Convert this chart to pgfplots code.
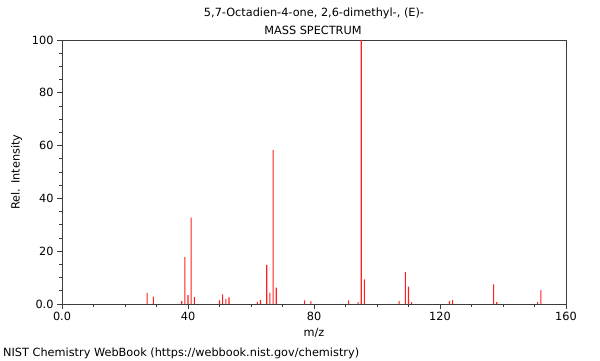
\documentclass[border=0pt]{standalone}
\usepackage{fontspec}
\setmainfont{DejaVu Sans}
\usepackage{pgfplots}
\pgfplotsset{compat=1.18}
\definecolor{axgray}{RGB}{60,60,60}
\definecolor{peak}{RGB}{255,30,30}
\newcommand{\f}{\fontsize{11.3bp}{13bp}\selectfont}
\begin{document}
\begin{tikzpicture}[x=1bp,y=1bp]
\useasboundingbox (0,0) rectangle (600,360);
\begin{axis}[
  at={(62bp,56bp)}, anchor=south west,
  scale only axis, width=504bp, height=264bp,
  xmin=0, xmax=160, ymin=0, ymax=100,
  axis line style={axgray, line width=0.8bp},
  every tick/.style={axgray, line width=0.7bp},
  tick align=outside, xtick pos=bottom, ytick pos=left,
  major tick length=5bp, minor tick length=3bp,
  xtick={0,40,80,120,160}, xticklabels={0.0,40,80,120,160},
  ytick={0,20,40,60,80,100}, yticklabels={0.0,20,40,60,80,100},
  minor x tick num=3, minor y tick num=3,
  tick label style={font=\f, text=black},
  /pgf/number format/assume math mode=true,
  xlabel={m/z}, ylabel={Rel. Intensity},
  label style={font=\f},
  ylabel style={yshift=3bp},
  clip=false,
]
\addplot[ybar, bar width=1.1bp, fill=peak, draw=none, mark=none] coordinates {
(27,4.2) (29,2.8) (38,1.1) (39,17.8) (40,3.4) (41,32.7) (42,2.6)
(50,1.4) (51,3.6) (52,1.9) (53,2.5) (62,0.8) (63,1.5) (65,14.8)
(66,4.2) (67,58.3) (68,6.2) (77,1.4) (79,1.1) (91,1.4) (94,0.7)
(95,100) (96,9.3) (107,1.1) (109,12.1) (110,6.6) (111,0.7)
(123,1.1) (124,1.5) (137,7.4) (138,0.7) (151,0.7) (152,5.3)
};
\end{axis}
\node[font=\f] at (314,347) {5,7-Octadien-4-one, 2,6-dimethyl-, (E)-};
\node[font=\f] at (313,330) {MASS SPECTRUM};
\node[font=\f, anchor=west, inner sep=0pt] at (3,7) {NIST Chemistry WebBook (https://webbook.nist.gov/chemistry)};
\end{tikzpicture}
\end{document}
